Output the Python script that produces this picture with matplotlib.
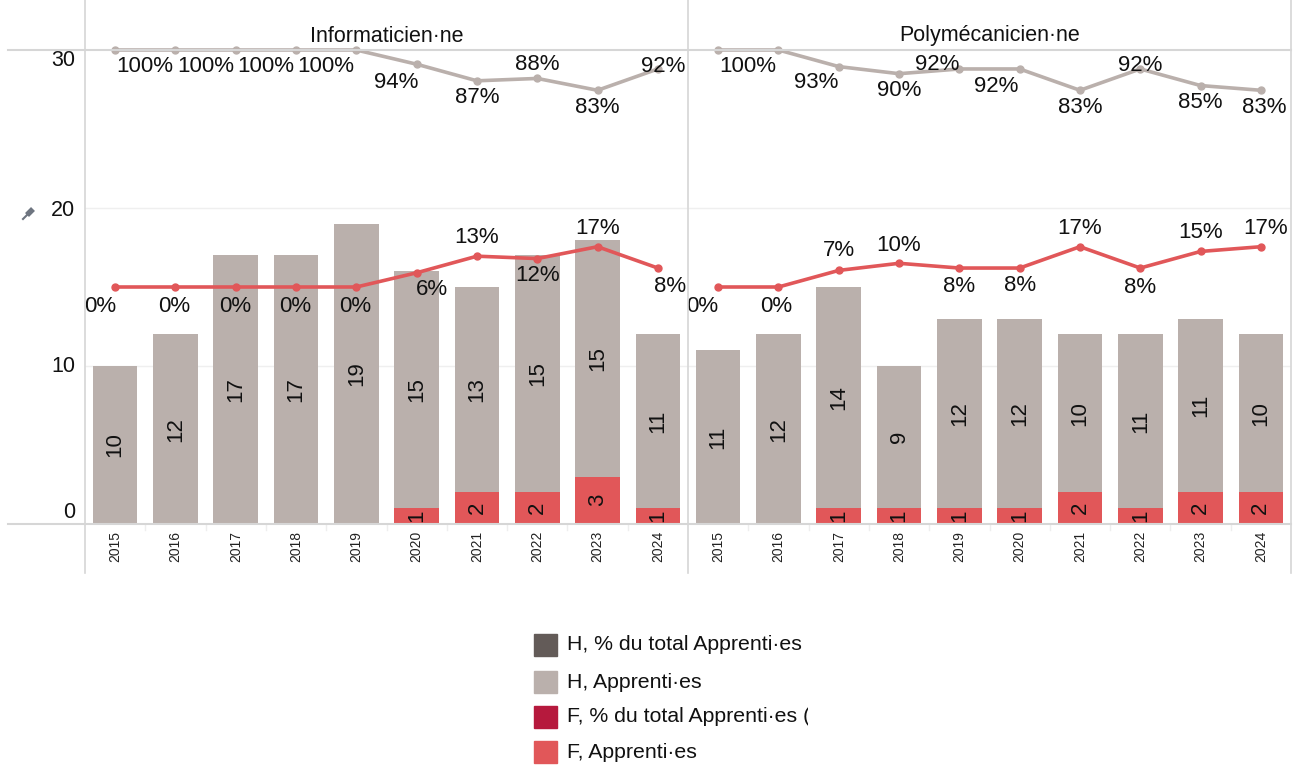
import matplotlib
matplotlib.use("Agg")
import matplotlib.pyplot as plt
from matplotlib.lines import Line2D
from matplotlib.patches import Rectangle
from matplotlib.transforms import Bbox, TransformedBbox

plt.rcParams['font.family'] = ['Liberation Sans', 'DejaVu Sans']

# apprenti·es par année, H = hommes, F = femmes
years = [2015, 2016, 2017, 2018, 2019, 2020, 2021, 2022, 2023, 2024]
metiers = ['Informaticien·ne', 'Polymécanicien·ne']

info_h = [10, 12, 17, 17, 19, 15, 13, 15, 15, 11]
info_f = [0, 0, 0, 0, 0, 1, 2, 2, 3, 1]
info_h_pct = [100, 100, 100, 100, 100, 94, 87, 88, 83, 92]
info_f_pct = [0, 0, 0, 0, 0, 6, 13, 12, 17, 8]

poly_h = [11, 12, 14, 9, 12, 12, 10, 11, 11, 10]
poly_f = [0, 0, 1, 1, 1, 1, 2, 1, 2, 2]
poly_h_pct = [100, 100, 93, 90, 92, 92, 83, 92, 85, 83]
poly_f_pct = [0, 0, 7, 10, 8, 8, 17, 8, 15, 17]

legend_labels = ['H, % du total Apprenti·es (', 'H, Apprenti·es',
                 'F, % du total Apprenti·es (', 'F, Apprenti·es']

# couleurs
GRIS = '#bab0ac'
GRIS_FONCE = '#635b58'
ROUGE = '#e15759'
BORDEAUX = '#b6193d'
TRAIT = '#d6d6d6'

# décalage des étiquettes en pixels (None = pas d'étiquette)
off_info_h = [(30, -17), (30, -17), (30, -17), (30, -17), None,
              (-20, -18), (0, -17), (0, 14), (0, -17), (5, 2)]
off_info_f = [(-15, -19), (-1, -19), (-1, -19), (-1, -19), (-1, -19),
              (15, -17), (0, 19), (0, -17), (0, 18), (12, -18)]
off_poly_h = [(30, -17), None, (-23, -16), (0, -17), (-22, 4),
              (-23, -18), (0, -17), (0, 3), (0, -17), (3, -17)]
off_poly_f = [(-16, -19), (-2, -19), (0, 20), (0, 18), (0, -18),
              (0, -17), (0, 18), (0, -19), (0, 19), (5, 18)]

W, H = 1300, 766
def fx(px):
    return px / W
def fy(py):
    return 1 - py / H

fig = plt.figure(figsize=(13, 7.66), dpi=100)

TOP, BOTTOM = 50, 524
bords = [85, 688, 1291]

panneaux = [
    (info_h, info_f, info_h_pct, info_f_pct, off_info_h, off_info_f),
    (poly_h, poly_f, poly_h_pct, poly_f_pct, off_poly_h, off_poly_f),
]

xs = list(range(len(years)))

for k, (h, f, hp, fp, oh, of) in enumerate(panneaux):
    x0, x1 = bords[k], bords[k + 1]
    ax = fig.add_axes([fx(x0), fy(BOTTOM), (x1 - x0) / W, (BOTTOM - TOP) / H])
    ax.set_xlim(-0.5, len(years) - 0.5)
    ax.set_ylim(0, 30)
    ax.set_axis_off()
    for g in (10, 20):
        ax.axhline(g, color='#efefef', lw=1, zorder=0)

    ax.bar(xs, f, width=0.74, color=ROUGE, zorder=2)
    ax.bar(xs, h, bottom=f, width=0.74, color=GRIS, zorder=2)

    for i in xs:
        if f[i] > 0:
            ax.text(i, f[i] / 2, str(f[i]), rotation=90, ha='center', va='center',
                    fontsize=16, color='#111111', zorder=3)
        ax.text(i, f[i] + h[i] / 2, str(h[i]), rotation=90, ha='center', va='center',
                fontsize=16, color='#111111', zorder=3)
        ax.annotate(str(years[i]), xy=(i, 0), xytext=(0, -7), textcoords='offset pixels',
                    rotation=90, ha='center', va='top', fontsize=10, color='#222222',
                    annotation_clip=False)

    # petits repères entre les années
    for i in range(1, len(years)):
        ax.plot([i - 0.5, i - 0.5], [0, -0.35], color='#eeeeee', lw=1, clip_on=False)

    # axe secondaire pour les pourcentages
    ax2 = ax.twinx()
    ax2.set_ylim(-100, 100)
    ax2.set_axis_off()
    ax2.plot(xs, hp, color=GRIS, lw=2.6, marker='o', ms=5, clip_on=False,
             solid_capstyle='round')
    ax2.plot(xs, fp, color=ROUGE, lw=2.6, marker='o', ms=5, clip_on=False,
             solid_capstyle='round')
    for vals, offs in ((hp, oh), (fp, of)):
        for i in xs:
            if offs[i] is None:
                continue
            ax2.annotate('%d%%' % vals[i], xy=(i, vals[i]), xytext=offs[i],
                         textcoords='offset pixels', ha='center', va='center',
                         fontsize=16, color='#111111', annotation_clip=False)

    fig.text(fx((x0 + x1) / 2), fy(36), metiers[k], ha='center', va='center',
             fontsize=15.5, color='#111111')

    if k == 0:
        for v, dy in ((30, -11), (20, -2), (10, 0), (0, 12)):
            ax.annotate(str(v), xy=(0, v), xycoords=('axes fraction', 'data'),
                        xytext=(-10, dy), textcoords='offset pixels',
                        ha='right', va='center', fontsize=15.5, color='#111111',
                        annotation_clip=False)

# traits du tableau
for px in bords:
    fig.add_artist(Line2D([fx(px), fx(px)], [fy(0), fy(573)], color=TRAIT, lw=1.2,
                          transform=fig.transFigure))
for py in (TOP, BOTTOM):
    fig.add_artist(Line2D([fx(8), fx(1291)], [fy(py), fy(py)], color=TRAIT, lw=1.5,
                          transform=fig.transFigure))

# épingle
fig.add_artist(Line2D([fx(23), fx(28)], [fy(219), fy(214)], color='#6e7580', lw=1.5,
                      transform=fig.transFigure))
fig.add_artist(Line2D([fx(27), fx(33)], [fy(215), fy(209)], color='#6e7580', lw=4,
                      transform=fig.transFigure, solid_capstyle='butt'))

# légende
couleurs_leg = [GRIS_FONCE, GRIS, BORDEAUX, ROUGE]
lignes_leg = [645, 682, 717, 752]
clip = TransformedBbox(Bbox.from_extents(0, 0, fx(808), 1), fig.transFigure)
for lab, c, yc in zip(legend_labels, couleurs_leg, lignes_leg):
    fig.add_artist(Rectangle((fx(534), fy(yc + 11)), 23 / W, 22 / H, color=c,
                             transform=fig.transFigure))
    t = fig.text(fx(567), fy(yc), lab, ha='left', va='center', fontsize=15.3,
                 color='#111111')
    t.set_clip_box(clip)
    t.set_clip_on(True)

fig.savefig('out.png', dpi=100)
